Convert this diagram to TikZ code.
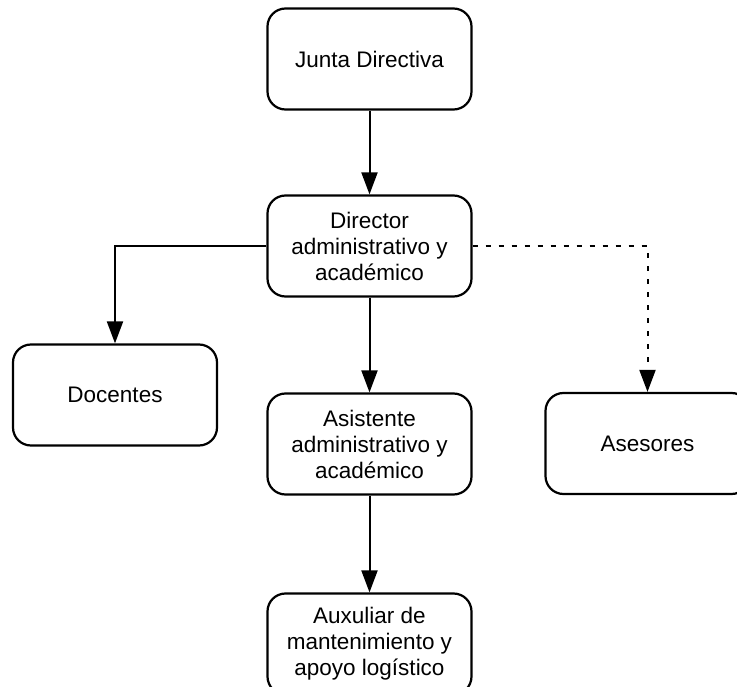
\documentclass[tikz,border=0pt]{standalone}
\usepackage{fontspec}
\setmainfont{Liberation Sans}
\usetikzlibrary{arrows.meta}
\begin{document}
\begin{tikzpicture}[x=1pt,y=-1pt,
  box/.style={draw=black, line width=2.2pt, rounded corners=18pt, minimum width=204pt, minimum height=101pt, align=center, inner sep=0pt, font=\fontsize{22.5}{26}\selectfont, fill=white},
  conn/.style={line width=2pt, -{Triangle[length=22pt,width=16pt]}},
  dconn/.style={conn, dash pattern=on 5pt off 8pt}]
\clip (0,0) rectangle (737,687);
\fill[white] (0,0) rectangle (737,687);
\node[box] (junta) at (369.5,59) {Junta Directiva};
\node[box] (dir) at (369.5,246) {Director\\administrativo y\\académico};
\node[box] (doc) at (115,395) {Docentes};
\node[box] (asis) at (369.5,444) {Asistente\\administrativo y\\académico};
\node[box] (ases) at (647.5,443.5) {Asesores};
\node[box] (aux) at (369.5,644) {Auxuliar de\\mantenimiento y\\apoyo logístico};
\draw[conn] (junta.south) -- (dir.north);
\draw[conn] (dir.west) -| (doc.north);
\draw[conn] (dir.south) -- (asis.north);
\draw[dconn] (dir.east) -| (ases.north);
\draw[conn] (asis.south) -- (aux.north);
\end{tikzpicture}
\end{document}
